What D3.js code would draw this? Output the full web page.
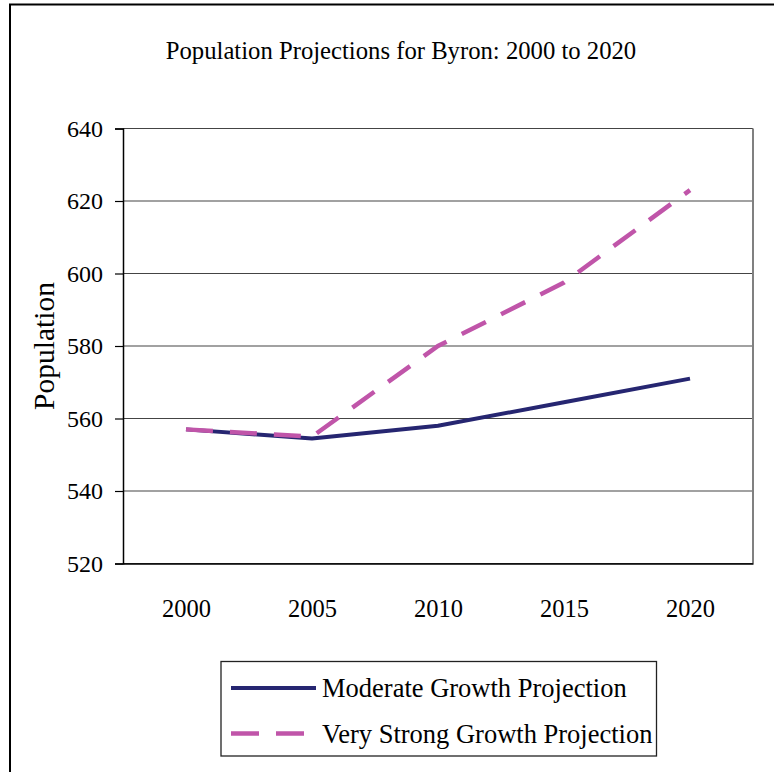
<!DOCTYPE html>
<html>
<head>
<meta charset="utf-8">
<script src="https://cdn.jsdelivr.net/npm/d3@7"></script>
<style>
  body { margin: 0; background: #fff; }
  text { font-family: "Liberation Serif", "Times New Roman", serif; fill: #000; }
</style>
</head>
<body>
<script>
// data
const years = ["2000", "2005", "2010", "2015", "2020"];
const moderate = [557, 554.5, 558, 564.5, 571];
const veryStrong = [557, 555, 580, 597.5, 623];
const yTicks = [520, 540, 560, 580, 600, 620, 640];
const seriesNames = ["Moderate Growth Projection", "Very Strong Growth Projection"];

const W = 774, H = 772;
const plot = {left: 123, right: 753, top: 128.5, bottom: 563.5};

const svg = d3.select("body").append("svg")
  .attr("width", W).attr("height", H);

// outer frame (right/bottom run off the page)
svg.append("rect")
  .attr("x", 10).attr("y", 4.5)
  .attr("width", W + 20).attr("height", H + 20)
  .attr("fill", "none").attr("stroke", "#000").attr("stroke-width", 2);

svg.append("text")
  .attr("x", 401).attr("y", 59)
  .attr("text-anchor", "middle")
  .attr("font-size", 24.7)
  .text("Population Projections for Byron: 2000 to 2020");

var x = d3.scalePoint()
  .domain(years)
  .range([plot.left, plot.right])
  .padding(0.5);

var y = d3.scaleLinear()
  .domain([520, 640])
  .range([plot.bottom, plot.top]);

// grid lines
svg.append("g")
  .selectAll("line")
  .data(yTicks)
  .enter()
  .append("line")
  .attr("x1", plot.left).attr("x2", plot.right)
  .attr("y1", d => y(d)).attr("y2", d => y(d))
  .attr("stroke", "#444").attr("stroke-width", 1.2);

// right border
svg.append("line")
  .attr("x1", plot.right).attr("x2", plot.right)
  .attr("y1", plot.top).attr("y2", plot.bottom)
  .attr("stroke", "#808080").attr("stroke-width", 2);

// y axis
var yAxis = d3.axisLeft(y).tickValues(yTicks).tickSize(8).tickPadding(12);
var gy = svg.append("g")
  .attr("transform", "translate(" + plot.left + ",0)")
  .call(yAxis)
  .attr("font-family", null);
gy.select(".domain").attr("stroke", "#000").attr("stroke-width", 1.5);
gy.selectAll(".tick line").attr("stroke", "#000").attr("stroke-width", 1.2);
gy.selectAll(".tick text")
  .style("font-family", "'Liberation Serif', serif")
  .attr("font-size", 24)
  .attr("fill", "#000");

// x axis
var xAxis = d3.axisBottom(x).tickSize(0).tickPadding(36);
var gx = svg.append("g")
  .attr("transform", "translate(0," + plot.bottom + ")")
  .call(xAxis)
  .attr("font-family", null);
gx.select(".domain").attr("stroke", "#000").attr("stroke-width", 1.5);
gx.selectAll(".tick text")
  .style("font-family", "'Liberation Serif', serif")
  .attr("font-size", 24.5)
  .attr("fill", "#000");

svg.append("text")
  .attr("transform", "translate(54," + ((plot.top + plot.bottom) / 2) + ") rotate(-90)")
  .attr("text-anchor", "middle")
  .attr("font-size", 29.5)
  .text("Population");

var line = d3.line()
  .x((d, i) => x(years[i]))
  .y(d => y(d));

svg.append("path")
  .datum(moderate)
  .attr("d", line)
  .attr("fill", "none")
  .attr("stroke", "#262671")
  .attr("stroke-width", 4)
  .attr("stroke-linejoin", "round");

svg.append("path")
  .datum(veryStrong)
  .attr("d", line)
  .attr("fill", "none")
  .attr("stroke", "#c055a9")
  .attr("stroke-width", 4.5)
  .attr("stroke-dasharray", "27,17");

// legend
var legend = svg.append("g");
legend.append("rect")
  .attr("x", 221).attr("y", 661.5)
  .attr("width", 435.5).attr("height", 94.5)
  .attr("fill", "#fff").attr("stroke", "#222").attr("stroke-width", 1.3);

var styles = [
  {color: "#262671", dash: null, w: 4},
  {color: "#c055a9", dash: "28,17", w: 4.5}
];
seriesNames.forEach(function(name, i) {
  var ly = 688 + i * 45.5;
  legend.append("line")
    .attr("x1", 231).attr("x2", 316)
    .attr("y1", ly).attr("y2", ly)
    .attr("stroke", styles[i].color)
    .attr("stroke-width", styles[i].w)
    .attr("stroke-dasharray", styles[i].dash);
  legend.append("text")
    .attr("x", 322).attr("y", ly + 9)
    .attr("font-size", 26.5)
    .text(name);
});
</script>
</body>
</html>
